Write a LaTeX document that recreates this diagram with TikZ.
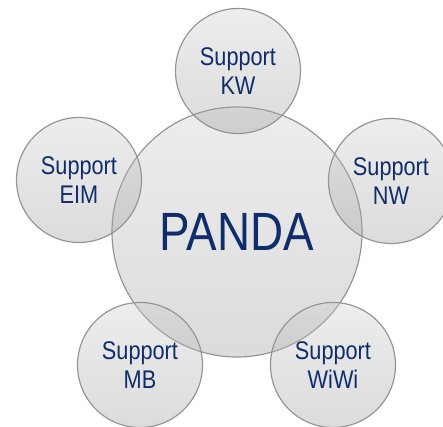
\documentclass[tikz,border=0pt]{standalone}
\usepackage{fontspec}
\setmainfont[FakeStretch=0.85]{Liberation Sans}
\definecolor{pandablue}{HTML}{0F2C6B}
\tikzset{
	bubble/.style={circle, draw=black!42, line width=0.35mm, top color=black!20, bottom color=black!40,
		fill opacity=0.35, text opacity=1, text=pandablue, align=center, inner sep=0pt},
	support/.style={bubble, minimum size=3.75cm, font=\fontsize{21.8}{24.5}\selectfont},
}

\begin{document}
\begin{tikzpicture}[x=0.03cm, y=-0.03cm]
	%%%%% START %%%%%
	\useasboundingbox (0, 0) rectangle (443, 427);
	\clip (0, 0) rectangle (443, 427);
	
	\node[bubble, minimum size=7.5cm, font=\fontsize{46}{50}\selectfont] (panda) at (237, 232) {PANDA};
	
	\node[support] (kw) at (238, 71) {Support\\KW};
	\node[support] (eim) at (79, 180) {Support\\EIM};
	\node[support] (nw) at (391, 181) {Support\\NW};
	\node[support] (mb) at (140, 365) {Support\\MB};
	\node[support] (wiwi) at (333, 365) {Support\\WiWi};
	%%%%% END %%%%%
\end{tikzpicture}
\end{document}
